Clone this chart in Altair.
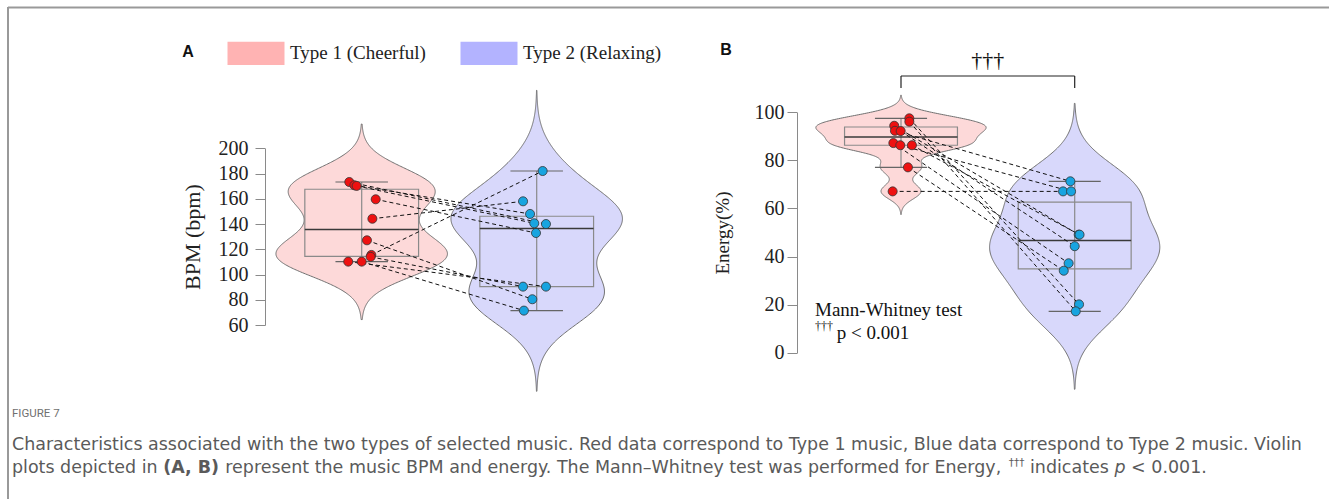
import altair as alt
import pandas as pd

# ---------------- data ----------------
types = ["Type 1 (Cheerful)", "Type 2 (Relaxing)"]

bpm_type1 = [173.3, 170.7, 170.2, 159.6, 144.2, 127.1, 115.5, 114.0, 110.2, 110.2]
bpm_type1_jitter = [-0.071, -0.042, -0.029, 0.080, 0.061, 0.030, 0.055, 0.051, -0.077, 0.000]
bpm_type2 = [182.0, 158.0, 148.0, 140.6, 140.0, 132.9, 90.4, 90.4, 80.4, 71.4]
bpm_type2_jitter = [0.034, -0.078, -0.038, -0.014, 0.053, -0.004, -0.078, 0.053, -0.025, -0.073]
bpm_pairs = [(0, 4), (1, 2), (2, 3), (3, 5), (4, 1), (5, 8), (6, 0), (7, 6), (8, 7), (9, 9)]
bpm_bandwidths = [15.3, 21.3]
bpm_ticks = [60, 80, 100, 120, 140, 160, 180, 200]

energy_type1 = [97.5, 96.1, 94.4, 92.3, 92.2, 87.2, 86.3, 86.3, 77.1, 67.1]
energy_type1_jitter = [0.048, 0.048, -0.039, -0.035, -0.002, -0.044, -0.004, 0.063, 0.040, -0.048]
energy_type2 = [71.3, 67.1, 67.1, 49.1, 49.1, 44.3, 37.2, 34.1, 20.1, 17.2]
energy_type2_jitter = [-0.025, -0.067, -0.021, 0.023, 0.028, 0.000, -0.035, -0.063, 0.025, 0.006]
energy_pairs = [(0, 8), (1, 9), (2, 3), (3, 0), (4, 5), (5, 6), (6, 2), (7, 4), (8, 7), (9, 1)]
energy_bandwidths = [3.2, 10.8]
energy_ticks = [0, 20, 40, 60, 80, 100]

caption_title = "FIGURE 7"
caption_line1 = ("Characteristics associated with the two types of selected music. Red data correspond to "
                 "Type 1 music, Blue data correspond to Type 2 music. Violin")
# line 2 as (text, style) runs
caption_line2 = [
    ("plots depicted in", "normal"),
    ("(A, B)", "bold"),
    ("represent the music BPM and energy. The Mann\u2013Whitney test was performed for Energy,", "normal"),
    ("\u2020\u2020\u2020", "sup"),
    ("indicates", "normal"),
    ("p", "italic"),
    ("< 0.001.", "normal"),
]

# ---------------- styling ----------------
SERIF = "Liberation Serif"
SANS = "Liberation Sans"
CAP = "DejaVu Sans"
VIOLIN_FILL = ["#fdd9d9", "#d8d8fb"]
SWATCH = ["#ffb3b3", "#b3b3ff"]
POINT_FILL = ["#ee1111", "#18a4e0"]
GRAY = "#8a8a8a"

W, H = 1329, 499

scale_xA = alt.Scale(domain=[0, 3], range=[186.7, 711.7], nice=False, zero=False)
scale_yA = alt.Scale(domain=[60, 200], range=[325, 148.3], nice=False, zero=False)
scale_xB = alt.Scale(domain=[0, 3], range=[727.3, 1248.4], nice=False, zero=False)
scale_yB = alt.Scale(domain=[0, 100], range=[352.7, 112.3], nice=False, zero=False)


def make_axis(title, values, offset, label_size, title_size, label_pad, title_pad):
    return alt.Axis(orient="left", offset=offset, values=values, title=title, grid=False,
                    labelFont=SERIF, labelFontSize=label_size, labelColor="#222",
                    labelPadding=label_pad, tickSize=10, tickColor=GRAY, domainColor=GRAY,
                    titleFont=SERIF, titleFontSize=title_size, titleFontWeight="normal",
                    titleColor="#222", titlePadding=title_pad)


def panel(v1, j1, v2, j2, pairs, bws, xs, ys, yaxis, notes, extra_layers_fn=None):
    df = pd.DataFrame({
        "g": [1] * len(v1) + [2] * len(v2),
        "v": v1 + v2,
        "xp": [1 + j for j in j1] + [2 + j for j in j2],
    })
    pair_df = pd.DataFrame({
        "x1": [1 + j1[a] for a, b in pairs],
        "y1": [v1[a] for a, b in pairs],
        "x2": [2 + j2[b] for a, b in pairs],
        "y2": [v2[b] for a, b in pairs],
    })

    def X(f):
        return alt.X(f, type="quantitative", scale=xs, axis=None)

    def Y(f):
        return alt.Y(f, type="quantitative", scale=ys, axis=yaxis)

    layers = []
    for gi, vals in enumerate([v1, v2]):
        g = gi + 1
        bw = bws[gi]
        lo, hi = min(vals) - 3 * bw, max(vals) + 3 * bw
        layers.append(
            alt.Chart(df)
            .transform_filter(f"datum.g == {g}")
            .transform_density("v", as_=["v", "dens"], bandwidth=bw, extent=[lo, hi], steps=300)
            .transform_joinaggregate(mx="max(dens)")
            .transform_calculate(xl=f"{g} - 0.49*datum.dens/datum.mx",
                                 xr=f"{g} + 0.49*datum.dens/datum.mx")
            .mark_area(orient="horizontal", fill=VIOLIN_FILL[gi], stroke="#707070", strokeWidth=1)
            .encode(y=Y("v"), x=X("xl"), x2="xr")
        )

    box = (alt.Chart(df)
           .transform_aggregate(q1="q1(v)", med="median(v)", q3="q3(v)", groupby=["g"])
           .transform_calculate(bl="datum.g - 0.325", br="datum.g + 0.325"))
    layers.append(box.mark_rect(fillOpacity=0, stroke=GRAY, strokeWidth=1.2)
                  .encode(x=X("bl"), x2="br", y=Y("q1"), y2="q3"))

    wk = (alt.Chart(df)
          .transform_joinaggregate(q1="q1(v)", q3="q3(v)", groupby=["g"])
          .transform_filter("datum.v >= datum.q1 - 1.5*(datum.q3 - datum.q1) && "
                            "datum.v <= datum.q3 + 1.5*(datum.q3 - datum.q1)")
          .transform_aggregate(lo="min(v)", hi="max(v)", groupby=["g"])
          .transform_calculate(cl="datum.g - 0.15", cr="datum.g + 0.15"))
    layers.append(wk.mark_rule(color=GRAY, strokeWidth=1.2).encode(x=X("g"), y=Y("lo"), y2="hi"))
    layers.append(wk.mark_rule(color="#666", strokeWidth=1.2).encode(x=X("cl"), x2="cr", y=Y("lo")))
    layers.append(wk.mark_rule(color="#666", strokeWidth=1.2).encode(x=X("cl"), x2="cr", y=Y("hi")))
    layers.append(box.mark_rule(color="#3a3a3a", strokeWidth=1.6)
                  .encode(x=X("bl"), x2="br", y=Y("med")))

    layers.append(alt.Chart(pair_df).mark_rule(strokeDash=[4, 3], color="#111", strokeWidth=1)
                  .encode(x=X("x1"), x2="x2", y=Y("y1"), y2="y2"))

    for gi in range(2):
        layers.append(alt.Chart(df).transform_filter(f"datum.g == {gi + 1}")
                      .mark_circle(size=82, fill=POINT_FILL[gi], stroke="#333", strokeWidth=0.8, opacity=1)
                      .encode(x=X("xp"), y=Y("v")))

    if extra_layers_fn is not None:
        layers.extend(extra_layers_fn(X, Y))

    for (t, x, y, font, size, weight, align) in notes:
        layers.append(alt.Chart(pd.DataFrame({"x": [x], "y": [y], "t": [t]}))
                      .mark_text(align=align, baseline="middle", font=font, fontSize=size,
                                 fontWeight=weight, color="#111")
                      .encode(x=X("x"), y=Y("y"), text=alt.Text("t:N")))
    return alt.layer(*layers)


axisA = make_axis("BPM (bpm)", bpm_ticks, -265, 20, 22, 7, 14)
axisB = make_axis("Energy(%)", energy_ticks, -797, 20, 19, 3, 22)

notesA = [("A", 0.007, 276.0, SANS, 16, "bold", "center")]
notesB = [
    ("B", -0.007, 126.0, SANS, 16, "bold", "center"),
    ("\u2020\u2020\u2020", 1.5, 121.8, SERIF, 22, "normal", "center"),
    ("Mann-Whitney test", 0.505, 17.8, SERIF, 19, "normal", "left"),
    ("\u2020\u2020\u2020", 0.505, 11.0, SERIF, 12, "normal", "left"),
    ("p < 0.001", 0.63, 8.4, SERIF, 19, "normal", "left"),
]

bracket_h = pd.DataFrame({"x1": [1.0], "x2": [2.0], "y": [115.1]})
bracket_v = pd.DataFrame({"x": [1.0, 2.0], "y1": [115.1, 115.1], "y2": [110.1, 110.1]})


def bracket_layers(X, Y):
    return [
        alt.Chart(bracket_h).mark_rule(color="#222", strokeWidth=1.2)
        .encode(x=X("x1"), x2="x2", y=Y("y")),
        alt.Chart(bracket_v).mark_rule(color="#222", strokeWidth=1.2)
        .encode(x=X("x"), y=Y("y1"), y2="y2"),
    ]


panelA = panel(bpm_type1, bpm_type1_jitter, bpm_type2, bpm_type2_jitter, bpm_pairs,
               bpm_bandwidths, scale_xA, scale_yA, axisA, notesA)
panelB = panel(energy_type1, energy_type1_jitter, energy_type2, energy_type2_jitter, energy_pairs,
               energy_bandwidths, scale_xB, scale_yB, axisB, notesB, bracket_layers)

legend_layer = (alt.Chart(pd.DataFrame({"type": types}))
                .mark_square(opacity=0)
                .encode(fill=alt.Fill("type:N", scale=alt.Scale(domain=types, range=SWATCH),
                                      legend=alt.Legend(orient="none", legendX=227.5, legendY=24.5,
                                                        direction="horizontal", title=None, padding=0,
                                                        symbolType="M-1,-0.41H1V0.41H-1Z",
                                                        symbolSize=3249, symbolStrokeWidth=0,
                                                        symbolOpacity=1, labelFont=SERIF,
                                                        labelFontSize=19, labelColor="#222",
                                                        labelOffset=5.5, columnPadding=34))))

frame_top = alt.Chart(pd.DataFrame({"a": [0]})).mark_rule(color="#999", strokeWidth=2).encode(
    x=alt.value(8), x2=alt.value(W), y=alt.value(7.5))
frame_left = alt.Chart(pd.DataFrame({"a": [0]})).mark_rule(color="#999", strokeWidth=2).encode(
    x=alt.value(8), y=alt.value(7), y2=alt.value(H))

# ---- caption text layout (approximate DejaVu Sans advance widths, em units) ----
ADV = {' ': 0.318, 'a': 0.613, 'b': 0.635, 'c': 0.550, 'd': 0.635, 'e': 0.615, 'f': 0.352,
       'g': 0.635, 'h': 0.634, 'i': 0.278, 'k': 0.579, 'l': 0.278, 'm': 0.974, 'n': 0.634,
       'o': 0.612, 'p': 0.635, 'r': 0.411, 's': 0.521, 't': 0.392, 'u': 0.634, 'v': 0.592,
       'w': 0.818, 'x': 0.592, 'y': 0.592, '.': 0.318, ',': 0.318, '(': 0.390, ')': 0.390,
       'A': 0.684, 'B': 0.686, 'C': 0.698, 'E': 0.632, 'M': 0.863, 'P': 0.603, 'R': 0.695,
       'T': 0.611, 'V': 0.684, 'W': 0.989, '<': 0.838, '\u2013': 0.500, '\u2020': 0.500}


def adv(s, size, factor=1.0):
    return sum(ADV.get(ch, 0.636) for ch in s) * size * factor


CAP_LEFT, CAP_RIGHT = 12, 1311
CS = round((CAP_RIGHT - CAP_LEFT) / adv(caption_line1, 1.0), 2)
SUP = CS * 0.6
GAP = ADV[' '] * CS

caption_segments = [
    (caption_title, CAP_LEFT, 417, 11.5, "normal", "normal", "#707070", "Roboto"),
    (caption_line1, CAP_LEFT, 450, CS, "normal", "normal", "#5a5a5a", CAP),
]
xcur = CAP_LEFT
for (t, style) in caption_line2:
    if style == "sup":
        caption_segments.append((t, xcur - 3, 466, SUP, "normal", "normal", "#5a5a5a", CAP))
        xcur += adv(t, SUP) + GAP - 3
    elif style == "bold":
        caption_segments.append((t, xcur, 473, CS, "bold", "normal", "#5a5a5a", CAP))
        xcur += adv(t, CS, 1.16) + GAP
    elif style == "italic":
        caption_segments.append((t, xcur, 473, CS, "normal", "italic", "#5a5a5a", CAP))
        xcur += adv(t, CS) + GAP
    else:
        caption_segments.append((t, xcur, 473, CS, "normal", "normal", "#5a5a5a", CAP))
        xcur += adv(t, CS) + GAP

caption_layers = []
for (t, x, y, size, weight, style, color, font) in caption_segments:
    caption_layers.append(
        alt.Chart(pd.DataFrame({"t": [t]}))
        .mark_text(align="left", baseline="alphabetic", font=font, fontSize=size,
                   fontWeight=weight, fontStyle=style, color=color)
        .encode(x=alt.value(x), y=alt.value(y), text=alt.Text("t:N"))
    )

chart = (alt.layer(panelA, panelB, legend_layer, frame_top, frame_left, *caption_layers)
         .resolve_scale(x="independent", y="independent")
         .properties(width=W, height=H, autosize=alt.AutoSizeParams(type="none"), padding=0,
                     background="white")
         .configure_view(strokeWidth=0))

chart.save("out.html", embed_options={"renderer": "svg", "actions": False})
